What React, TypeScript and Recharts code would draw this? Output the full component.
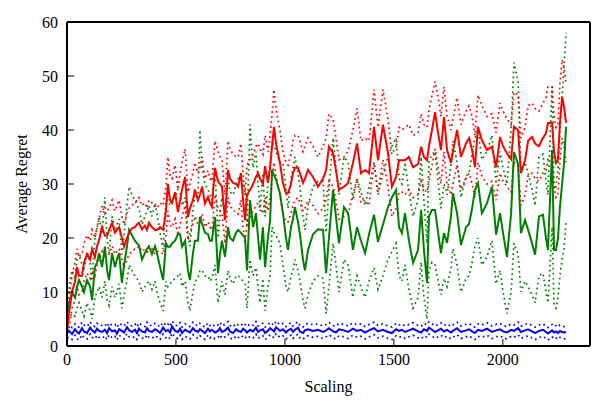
import React from 'react';
import { LineChart, Line, XAxis, YAxis, Label } from 'recharts';

// Scaling values (x) shared by every run
const scaling = [
  0, 9, 23, 37, 46, 55, 69, 78, 92, 106,
  115, 128, 138, 147, 161, 174, 184, 193, 207, 220,
  229, 239, 252, 262, 275, 285, 298, 312, 321, 330,
  344, 358, 367, 376, 390, 404, 413, 427, 441, 454,
  463, 473, 482, 496, 509, 519, 528, 542, 555, 564,
  578, 587, 601, 610, 620, 633, 647, 656, 665, 679,
  693, 702, 711, 725, 739, 748, 762, 776, 785, 798,
  808, 817, 826, 840, 854, 867, 877, 886, 899, 909,
  922, 932, 941, 950, 959, 977, 991, 1005, 1014, 1028,
  1037, 1046, 1060, 1069, 1083, 1092, 1106, 1129, 1152, 1175,
  1189, 1202, 1221, 1234, 1248, 1271, 1290, 1312, 1331, 1349,
  1368, 1386, 1409, 1427, 1450, 1473, 1491, 1510, 1524, 1537,
  1551, 1569, 1588, 1611, 1625, 1638, 1652, 1661, 1675, 1689,
  1703, 1716, 1730, 1744, 1762, 1771, 1790, 1808, 1831, 1845,
  1859, 1872, 1886, 1904, 1927, 1950, 1969, 1987, 2001, 2019,
  2038, 2051, 2070, 2083, 2102, 2116, 2134, 2148, 2166, 2184,
  2198, 2207, 2226, 2235, 2244, 2253, 2262, 2272, 2281, 2290,
];

// red run: mean and spread
const redMean = [
  3, 6, 10, 12, 14.6, 13, 13, 15.5, 17, 16,
  18, 16.5, 18.5, 19.6, 22, 20.4, 20.4, 21.5, 22.8, 21,
  21.5, 22, 20, 18.4, 20, 21, 21.8, 22, 22.5, 22.8,
  21.6, 22.3, 21.5, 22.8, 22, 21.5, 21.5, 22, 21.5, 25,
  30, 27, 26.5, 28.5, 24.8, 27, 29, 31.3, 23.9, 25.5,
  27, 29, 27, 28, 29.5, 26.4, 27.6, 26.5, 25.8, 33,
  30.5, 30, 29.5, 23.3, 32.6, 31, 30.2, 30, 29.5, 32,
  27, 23.3, 28, 28.9, 30, 31.3, 32, 31, 30, 33.3,
  30.2, 33, 37, 40.6, 37.5, 33.9, 30.2, 28.3, 28.3, 30,
  32, 33, 33, 32, 30.2, 31, 32.6, 31.3, 29.5, 31,
  32.6, 36.9, 35.7, 32.6, 28.9, 29.5, 30.2, 33.9, 37.5, 32,
  32.6, 32, 40.6, 34.4, 41, 35.7, 29.5, 31.3, 34.4, 34.4,
  34.4, 35, 33.1, 33.7, 36.9, 35, 34.4, 37, 40, 43.3,
  39.4, 36.3, 42.4, 36.3, 33.9, 36, 40, 35, 37.5, 38.5,
  36.3, 33.1, 40.6, 38.1, 36.3, 36.9, 33.1, 38.7, 37, 35.7,
  34.6, 40.6, 40, 32, 34.4, 38, 38.7, 37.5, 37, 38.5,
  39.4, 41.3, 41.3, 36, 33.9, 34.5, 41.3, 46.1, 44.3, 41.3,
];
const redLow = [
  1.5, 3, 7, 8.5, 11, 9.5, 10, 12, 13.5, 12.5,
  14, 13, 15, 16, 17.5, 16, 16.5, 17, 18.5, 17,
  17.5, 18, 16, 14.5, 16, 17, 17.5, 18, 18, 18.5,
  17.5, 18, 17, 18.5, 18, 17, 17.5, 17.5, 17, 20.5,
  25, 22.5, 22, 23.5, 20.5, 22.5, 24, 26, 19.5, 21,
  22.5, 24, 22.5, 23, 24.5, 22, 23, 22, 21.5, 28,
  25.5, 25, 24.5, 19, 27.5, 26, 25, 25, 24.5, 27,
  22, 19, 23, 24, 25, 26, 26.5, 25.5, 24.5, 27.5,
  25, 27.5, 31, 34, 31.5, 28, 24.5, 23, 23, 24.5,
  26, 27, 27.5, 26.5, 25, 25.5, 27, 26, 24.5, 25.5,
  27, 30.5, 29.5, 27, 23.5, 24, 24.5, 28, 31, 26.5,
  27, 26, 34, 28.5, 34.5, 29.5, 24, 25.5, 28.5, 28.5,
  28, 29, 27.5, 28, 30.5, 29, 28.5, 30.5, 33.5, 36.5,
  33, 30, 36, 30, 28, 30, 33.5, 29, 31, 32,
  30, 27.5, 34, 31.5, 30, 30.5, 27, 32, 30.5, 29.5,
  28.5, 34, 33.5, 26, 28, 31.5, 32, 31, 30.5, 32,
  32.5, 34.5, 34, 29.5, 27.5, 28, 34, 38.5, 37, 34,
];
const redHigh = [
  5, 9, 13, 15.5, 18, 16.5, 17, 19, 20.5, 19.5,
  21.5, 20, 22, 23.5, 26, 24.5, 25, 25.5, 27, 25,
  26, 27, 24, 22.5, 24.5, 25.5, 26, 26.5, 27, 27.5,
  26, 26.5, 25.5, 27, 26.5, 26, 25.5, 26.5, 26, 29.5,
  35, 31.5, 31, 33.5, 29, 32, 34, 36.5, 28.5, 30,
  32, 34, 32, 33, 35, 31, 32.5, 31, 30.5, 38,
  36, 35, 34.5, 28, 38, 36.5, 35.5, 35, 35, 37.5,
  32, 28, 33.5, 34.5, 35.5, 37, 37.5, 36.5, 35.5, 39,
  36, 39, 43, 47.5, 44, 40, 36, 34, 33.5, 35.5,
  38, 39, 39, 38, 36, 37, 38.5, 37, 35, 37,
  38.5, 43, 42, 38.5, 34.5, 35, 36, 40, 44, 38,
  38.5, 38, 47.5, 40.5, 47.5, 42, 35.5, 37, 40.5, 40,
  40.5, 41, 39, 39.5, 43, 41, 40.5, 43.5, 46.5, 49,
  46, 42.5, 48, 42.5, 40, 42, 46, 41, 43.5, 44.5,
  42.5, 39, 46.5, 44.5, 42.5, 43, 39.5, 45, 43.5, 42,
  41, 47, 46.5, 38.5, 40.5, 44.5, 45, 44, 43.5, 45,
  46, 48, 48, 42.5, 40.5, 41, 48.5, 53, 51.5, 48.5,
];

// green run: mean and spread
const greenMean = [
  4, 8, 9.8, 9, 11, 12.2, 11, 10, 12.2, 11,
  8.5, 14.6, 15.5, 17.2, 14.6, 18.4, 14, 12.2, 17.2, 14.6,
  16, 17.2, 11.7, 15, 18.4, 21.5, 20.5, 19.5, 19, 18.7,
  16, 17.2, 18, 18.4, 17, 18.5, 17.2, 14.6, 12.2, 19,
  18.4, 18.4, 19, 19.5, 20.7, 20.7, 18.4, 19.5, 14, 12.2,
  17.2, 19.5, 19.5, 23.9, 22.6, 21, 20.7, 19.5, 19.5, 23.9,
  13.5, 17, 19.5, 16.5, 22, 20, 19.5, 21, 21.5, 21,
  20.5, 20, 14, 27, 22, 24.6, 20, 16, 22, 14.6,
  20, 23.3, 32.6, 31.5, 30.9, 28.3, 24.6, 20, 17.8, 22,
  23.5, 25.7, 23, 20.7, 16, 14, 17.8, 20.7, 21.6, 21.5,
  13.5, 20, 28.9, 24, 19, 25.7, 24.6, 17.8, 22, 19.5,
  17.2, 20.7, 24.3, 19.3, 22.5, 25.7, 27.5, 28.9, 22, 20.9,
  24.6, 19.5, 15.4, 17.8, 25.2, 17.8, 11.7, 24, 25.2, 25.2,
  21, 17.2, 20.9, 19.1, 24, 28.3, 24.6, 18.7, 22, 22.6,
  25.5, 28.9, 30.2, 24.6, 26.4, 29.5, 20.6, 24.6, 20.9, 16.5,
  24.6, 35.9, 33.7, 20.9, 23.3, 21.5, 19, 16.9, 24, 24.3,
  20, 17.8, 36.3, 17.8, 17.8, 20, 25.7, 30, 34, 40.6,
];
const greenLow = [
  2, 5, 6, 5.5, 7, 8, 6.5, 5.5, 8, 6.5,
  5, 9, 10, 11, 9, 12, 8.5, 7.5, 11, 9,
  10, 11.5, 7, 9.5, 12, 15, 14, 13, 12.5, 12,
  10, 11, 11.5, 12, 10.5, 12, 10, 8, 6.5, 12,
  11, 11.5, 12, 12.5, 13, 13.5, 11, 12, 8, 6.5,
  10, 12, 12.5, 14, 14, 13, 13, 12, 12.5, 15,
  8, 10, 12, 9.5, 14, 12.5, 11.5, 13, 13, 12.5,
  12, 11.5, 7, 16, 13, 14.5, 11, 8, 12.5, 6.5,
  11, 13, 22, 21, 20.5, 19, 15, 11, 10, 13,
  14, 16, 14, 12, 8.5, 7, 9.5, 12, 13, 12.5,
  6, 11, 19, 15, 10, 16, 15, 9, 13, 11,
  9, 12, 14.5, 10.5, 13, 16, 17.5, 19, 13, 12,
  15, 10.5, 7, 9, 15.5, 9, 5, 14, 15.5, 15,
  12, 9.5, 12.5, 11, 14.5, 18, 15, 10, 12.5, 13,
  15.5, 18.5, 20, 15, 16.5, 19.5, 11.5, 14, 10, 6,
  10, 19, 17, 10, 12, 11, 9.5, 8, 13, 13.5,
  10, 8, 22, 7.5, 7, 9, 13, 16, 18, 23,
];
const greenHigh = [
  6, 11, 14, 12.5, 16, 17, 15, 14, 17.5, 15.5,
  12, 20, 22, 24, 21, 27.5, 20, 17, 24, 21,
  22.5, 23.5, 17, 20.5, 26, 29.5, 28, 27, 26, 25.5,
  22.5, 24, 25, 26, 24, 26.5, 24.5, 21, 18, 27,
  27, 26, 27, 27.5, 29, 28.5, 26, 27.5, 20.5, 18.5,
  25, 28, 27.5, 40, 33, 30, 29, 28, 27, 33,
  20, 24.5, 27.5, 24, 31, 28.5, 28, 30, 31, 31,
  30, 29.5, 22, 41, 33, 36, 30, 25, 32, 24,
  30, 34, 38, 37, 36, 34, 34, 29, 25.5, 31,
  33, 35, 32, 29.5, 24, 21.5, 26, 29.5, 30.5, 30.5,
  21, 29, 38.5, 33, 28, 35, 34, 27, 31, 28.5,
  26, 29.5, 34, 28, 32, 35, 37, 38.5, 31, 30,
  34, 28.5, 24, 27, 35, 27, 19, 34, 35.5, 36,
  30.5, 25.5, 30, 28, 33.5, 38, 34, 27.5, 31.5, 32,
  35.5, 38.5, 40, 34.5, 36, 39, 30, 36, 33, 30,
  40, 52.5, 49, 32, 34, 32, 29, 26, 35, 35.5,
  30.5, 28, 48, 29, 29.5, 33, 40, 46, 52, 58,
];

// blue run: mean and spread
const blueMean = [
  2.5, 2.8, 2.2, 3.1, 2.6, 2.3, 3.3, 2.7, 2.4, 3.4,
  2.9, 2.5, 3.2, 2.8, 2.6, 3, 2.4, 3.3, 2.7, 2.9,
  2.3, 3.1, 2.8, 2.5, 3.5, 2.9, 2.6, 3, 2.4, 3.2,
  2.7, 2.5, 3.3, 2.8, 2.6, 3.1, 2.9, 2.4, 3.4, 2.7,
  3, 2.5, 3.6, 2.8, 2.6, 3.2, 2.4, 3, 2.7, 2.5,
  3.3, 2.9, 2.6, 3.1, 2.8, 2.4, 3.2, 2.7, 3, 2.5,
  2.8, 3.3, 2.6, 2.9, 3.4, 2.7, 2.4, 3.1, 2.8, 2.6,
  3.2, 2.9, 2.5, 3, 2.7, 3.4, 2.6, 2.9, 3.1, 2.4,
  2.8, 3.3, 3, 2.7, 3.5, 2.8, 3.1, 2.5, 2.9, 3.2,
  2.6, 3, 3.4, 2.7, 2.4, 2.9, 3.1, 2.8, 3, 2.6,
  2.9, 3.3, 2.7, 2.5, 3.1, 2.9, 2.6, 3.2, 2.8, 3,
  2.5, 2.9, 3.3, 2.7, 3, 2.6, 2.4, 3.1, 2.8, 3,
  2.6, 2.9, 3.2, 2.7, 2.5, 3.1, 2.8, 3.4, 3, 2.6,
  2.9, 3.2, 2.7, 3, 2.5, 2.8, 3.3, 2.6, 2.9, 3.1,
  2.7, 2.4, 3, 2.8, 3.2, 2.6, 2.9, 3.1, 2.7, 2.5,
  3, 2.8, 3.3, 2.6, 2.9, 3.1, 2.7, 2.4, 2.8, 3,
  2.6, 2.3, 2.9, 2.5, 2.7, 2.4, 2.8, 2.6, 2.5, 2.6,
];
const blueLow = [
  1.5, 1.6, 1.2, 2, 1.4, 1.1, 2.1, 1.5, 1.3, 2.2,
  1.6, 1.3, 2, 1.6, 1.4, 1.9, 1.2, 2.1, 1.5, 1.8,
  1.1, 2, 1.6, 1.3, 2.3, 1.7, 1.5, 1.8, 1.2, 2,
  1.5, 1.3, 2.1, 1.6, 1.4, 1.9, 1.7, 1.2, 2.2, 1.5,
  1.8, 1.3, 2.4, 1.6, 1.4, 2, 1.2, 1.8, 1.5, 1.3,
  2.1, 1.7, 1.4, 1.9, 1.6, 1.2, 2, 1.5, 1.8, 1.3,
  1.6, 2.1, 1.4, 1.7, 2.2, 1.5, 1.2, 1.9, 1.6, 1.4,
  2, 1.7, 1.3, 1.8, 1.5, 2.2, 1.4, 1.7, 1.9, 1.2,
  1.6, 2.1, 1.8, 1.5, 2.3, 1.6, 1.9, 1.3, 1.7, 2,
  1.4, 1.8, 2.2, 1.5, 1.2, 1.7, 1.9, 1.6, 1.8, 1.4,
  1.7, 2.1, 1.5, 1.3, 1.9, 1.7, 1.4, 2, 1.6, 1.8,
  1.3, 1.7, 2.1, 1.5, 1.8, 1.4, 1.2, 1.9, 1.6, 1.8,
  1.4, 1.7, 2, 1.5, 1.3, 1.9, 1.6, 2.2, 1.8, 1.4,
  1.7, 2, 1.5, 1.8, 1.3, 1.6, 2.1, 1.4, 1.7, 1.9,
  1.5, 1.2, 1.8, 1.6, 2, 1.4, 1.7, 1.9, 1.5, 1.3,
  1.8, 1.6, 2.1, 1.4, 1.7, 1.9, 1.5, 1.2, 1.6, 1.8,
  1.4, 1.1, 1.7, 1.3, 1.5, 1.2, 1.6, 1.4, 1.3, 1.4,
];
const blueHigh = [
  3.5, 3.8, 3.4, 4.1, 3.7, 3.5, 4.4, 3.9, 3.6, 4.5,
  3.9, 3.6, 4.2, 3.9, 3.8, 4.1, 3.5, 4.3, 3.8, 4,
  3.4, 4.2, 3.9, 3.7, 4.5, 4, 3.7, 4.1, 3.5, 4.3,
  3.8, 3.6, 4.4, 3.9, 3.7, 4.2, 4, 3.5, 4.4, 3.8,
  4.1, 3.6, 4.6, 3.9, 3.7, 4.3, 3.5, 4.1, 3.8, 3.6,
  4.4, 4, 3.7, 4.2, 3.9, 3.5, 4.3, 3.8, 4.1, 3.6,
  3.9, 4.4, 3.7, 4, 4.5, 3.8, 3.5, 4.2, 3.9, 3.7,
  4.3, 4, 3.6, 4.1, 3.8, 4.5, 3.7, 4, 4.2, 3.5,
  3.9, 4.4, 4.1, 3.8, 4.6, 3.9, 4.2, 3.6, 4, 4.3,
  3.7, 4.1, 4.5, 3.8, 3.5, 4, 4.2, 3.9, 4.1, 3.7,
  4, 4.4, 3.8, 3.6, 4.2, 4, 3.7, 4.3, 3.9, 4.1,
  3.6, 4, 4.4, 3.8, 4.1, 3.7, 3.5, 4.2, 3.9, 4.1,
  3.7, 4, 4.3, 3.8, 3.6, 4.2, 3.9, 4.5, 4.1, 3.7,
  4, 4.3, 3.8, 4.1, 3.6, 3.9, 4.4, 3.7, 4, 4.2,
  3.8, 3.5, 4.1, 3.9, 4.3, 3.7, 4, 4.2, 3.8, 3.6,
  4.1, 3.9, 4.4, 3.7, 4, 4.2, 3.8, 3.5, 3.9, 4.1,
  3.7, 3.4, 4, 3.6, 3.8, 3.5, 3.9, 3.7, 3.6, 3.7,
];

const xTicks = [0, 500, 1000, 1500, 2000];
const yTicks = [0, 10, 20, 30, 40, 50, 60];

const rows = scaling.map((s, i) => ({
  scaling: s,
  redMean: redMean[i],
  redLow: redLow[i],
  redHigh: redHigh[i],
  greenMean: greenMean[i],
  greenLow: greenLow[i],
  greenHigh: greenHigh[i],
  blueMean: blueMean[i],
  blueLow: blueLow[i],
  blueHigh: blueHigh[i],
}));

const FONT = '"Liberation Serif", "DejaVu Serif", serif';
const tickStyle = { fill: '#000', fontSize: 16, fontFamily: FONT };
const frame = { stroke: '#000', strokeWidth: 2 };
const tickMark = { stroke: '#000', strokeWidth: 1 };

const RED = '#ff0000';
const GREEN = '#008000';
const BLUE = '#0000ff';

const dotted = (key: string, color: string) => (
  <Line
    key={key}
    dataKey={key}
    type="linear"
    stroke={color}
    strokeWidth={1.7}
    strokeDasharray="1.7 3.3"
    dot={false}
    activeDot={false}
    isAnimationActive={false}
  />
);

const solid = (key: string, color: string) => (
  <Line
    key={key}
    dataKey={key}
    type="linear"
    stroke={color}
    strokeWidth={2}
    dot={false}
    activeDot={false}
    isAnimationActive={false}
  />
);

export default function App() {
  return (
    <div style={{ position: 'absolute', left: 0, top: 0, width: 605, height: 411, background: '#fff' }}>
      <LineChart width={605} height={411} data={rows} margin={{ top: 21, right: 14, bottom: 30, left: 7 }}>
        <XAxis
          dataKey="scaling"
          type="number"
          domain={[0, 2400]}
          ticks={xTicks}
          height={35}
          tick={tickStyle}
          tickSize={-7}
          tickMargin={15}
          axisLine={frame}
          tickLine={tickMark}
        >
          <Label value="Scaling" position="bottom" offset={0} style={{ fill: '#000', fontSize: 16, fontFamily: FONT }} />
        </XAxis>
        <XAxis
          xAxisId="top"
          orientation="top"
          dataKey="scaling"
          type="number"
          domain={[0, 2400]}
          ticks={xTicks}
          height={1}
          tick={false}
          tickSize={-7}
          axisLine={frame}
          tickLine={tickMark}
        />
        <YAxis
          type="number"
          domain={[0, 60]}
          ticks={yTicks}
          width={60}
          tick={tickStyle}
          tickSize={-7}
          tickMargin={16}
          axisLine={frame}
          tickLine={tickMark}
        />
        <YAxis
          yAxisId="right"
          orientation="right"
          type="number"
          domain={[0, 60]}
          ticks={yTicks}
          width={1}
          tick={false}
          tickSize={-7}
          axisLine={frame}
          tickLine={tickMark}
        />
        {dotted('greenLow', GREEN)}
        {dotted('greenHigh', GREEN)}
        {dotted('redLow', RED)}
        {dotted('redHigh', RED)}
        {dotted('blueLow', BLUE)}
        {dotted('blueHigh', BLUE)}
        {solid('greenMean', GREEN)}
        {solid('redMean', RED)}
        {solid('blueMean', BLUE)}
      </LineChart>
      <div
        style={{
          position: 'absolute',
          left: 22,
          top: 184,
          transform: 'translate(-50%, -50%) rotate(-90deg)',
          fontFamily: FONT,
          fontSize: 16,
          whiteSpace: 'nowrap',
          color: '#000',
        }}
      >
        Average Regret
      </div>
    </div>
  );
}
